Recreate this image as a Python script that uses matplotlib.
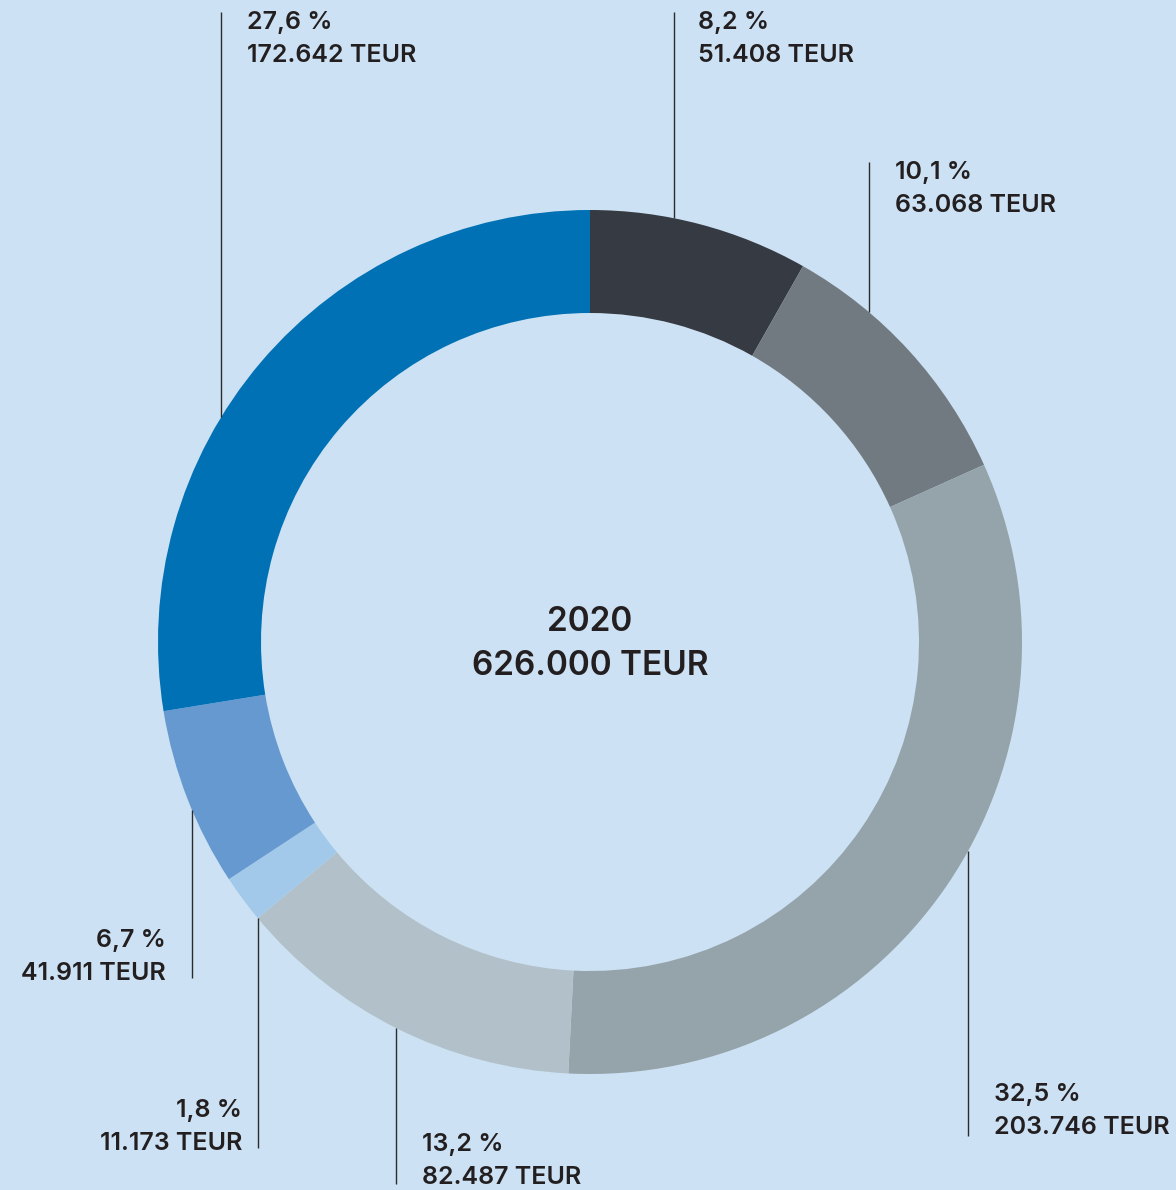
import matplotlib.pyplot as plt
import numpy as np

# Anteile 2020 in TEUR, im Uhrzeigersinn ab 12 Uhr
values = [51408, 63068, 203746, 82487, 11173, 41911, 172642]
colors = ["#363a42", "#717a80", "#95a4aa", "#b2c1c9", "#a3c9ea", "#6699d0", "#0071b4"]
center_year = "2020"
center_total = "626.000 TEUR"

# Beschriftungen: x der Hinweislinie, Linienende (y), Textposition, Ausrichtung
label_line_x = [674, 869, 968, 396, 258, 192, 221]
label_line_end = [12, 162, 1136, 1184, 1148, 978, 12]
label_text_x = [698, 895, 994, 422, 242, 166, 247]
label_text_y = [23, 173, 1095, 1145, 1111, 941, 23]
label_ha = ["left", "left", "left", "left", "right", "right", "left"]

W, H = 1176, 1190
CX, CY = 590, 642
R_OUT, RING = 432, 103
BG = "#cce1f3"
TXT = "#231f20"

plt.rcParams["font.family"] = ["Inter", "DejaVu Sans"]

fig = plt.figure(figsize=(W / 100, H / 100), dpi=100, facecolor=BG)
ax = fig.add_axes([0, 0, 1, 1])
ax.set_facecolor(BG)

ax.pie(
    values,
    colors=colors,
    startangle=90,
    counterclock=False,
    center=(CX, H - CY),
    radius=R_OUT,
    frame=True,
    wedgeprops={"width": RING, "linewidth": 0},
)
ax.set_xlim(0, W)
ax.set_ylim(0, H)
ax.set_aspect("equal")
ax.axis("off")

total = sum(values)


def fmt_teur(v):
    return f"{v:,}".replace(",", ".") + " TEUR"


def fmt_pct(v):
    return f"{v / total * 100:.1f}".replace(".", ",") + " %"


txt_style = dict(fontsize=18, fontweight="semibold", color=TXT, va="center")

for v, lx, lend, tx, ty, ha in zip(values, label_line_x, label_line_end,
                                   label_text_x, label_text_y, label_ha):
    # Hinweislinie vom Außenrand des Rings bis zur Beschriftung
    dx = lx - CX
    dy = np.sqrt(R_OUT ** 2 - dx ** 2)
    y_edge = CY - dy if lend < CY else CY + dy
    ax.plot([lx, lx], [H - y_edge, H - lend], color="#2b2b2b", lw=1.0,
            solid_capstyle="butt")
    ax.text(tx, H - ty, fmt_pct(v), ha=ha, **txt_style)
    ax.text(tx, H - ty - 32, fmt_teur(v), ha=ha, **txt_style)

center_style = dict(fontsize=24, fontweight="semibold", color=TXT, ha="center", va="center")
ax.text(CX, H - 622, center_year, **center_style)
ax.text(CX, H - 666, center_total, **center_style)

fig.savefig("out.png", dpi=100, facecolor=BG)
